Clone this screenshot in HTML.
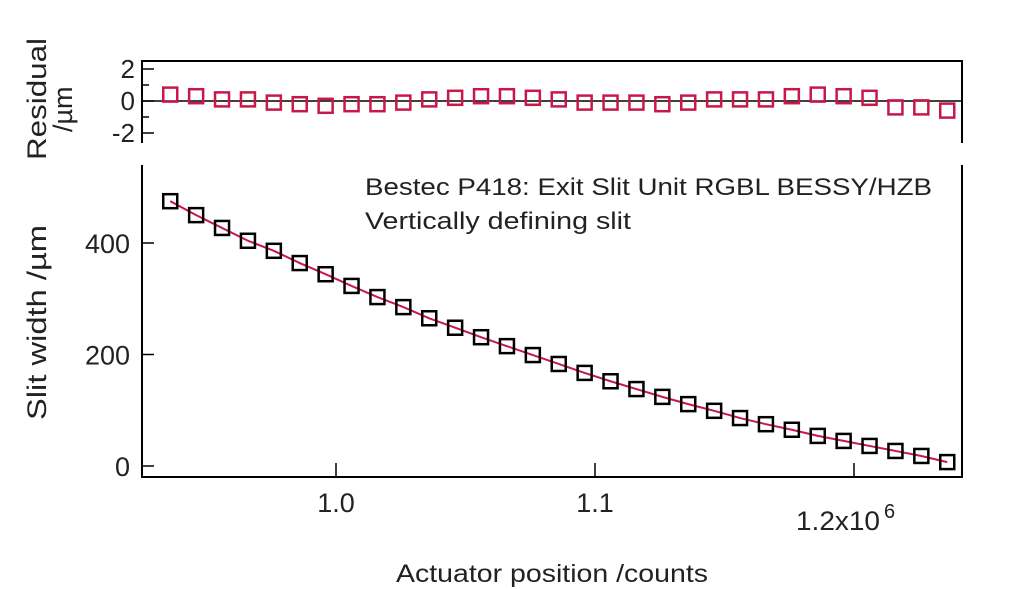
<!DOCTYPE html>
<html><head><meta charset="utf-8"><style>
body{margin:0;background:#fff;}
svg{display:block;font-family:"Liberation Sans",sans-serif;}
</style></head><body>
<svg id="chart" width="1024" height="589">
<g id="res-panel"></g>
<g id="main-panel"></g>
<text x="365" y="195" font-size="24" textLength="567" lengthAdjust="spacingAndGlyphs" fill="#222">Bestec P418: Exit Slit Unit RGBL BESSY/HZB</text>
<text x="365" y="229" font-size="24" textLength="266" lengthAdjust="spacingAndGlyphs" fill="#222">Vertically defining slit</text>
<text x="396" y="582" font-size="25" textLength="312" lengthAdjust="spacingAndGlyphs" fill="#222">Actuator position /counts</text>
<text transform="translate(46,420) rotate(-90)" font-size="27" textLength="195" lengthAdjust="spacingAndGlyphs" fill="#222">Slit width /µm</text>
<text transform="translate(46,160) rotate(-90)" font-size="27" textLength="122" lengthAdjust="spacingAndGlyphs" fill="#222">Residual</text>
<text transform="translate(72,132) rotate(-90)" font-size="27" fill="#222">/µm</text>
</svg>
<script>
const xValues=[0.936,0.946,0.956,0.966,0.976,0.986,0.996,1.006,1.016,1.026,1.036,1.046,1.056,1.066,1.076,1.086,1.096,1.106,1.116,1.126,1.136,1.146,1.156,1.166,1.176,1.186,1.196,1.206,1.216,1.226,1.236];
const widthValues=[475,450,427,404,386,364,344,323,303,285,265,248,231,215,199,183,167,152,138,124,111,99,86,75,65,54,45,36,27,18,7];
const residualValues=[0.4,0.3,0.1,0.1,-0.1,-0.2,-0.3,-0.2,-0.2,-0.1,0.1,0.2,0.3,0.3,0.2,0.1,-0.1,-0.1,-0.1,-0.2,-0.1,0.1,0.1,0.1,0.3,0.4,0.3,0.2,-0.4,-0.4,-0.6];
const xTicks=[1.0,1.1,1.2];
const xTickLabels=["1.0","1.1","1.2x10"];
const yTicks=[0,200,400];
const resTicks=[-2,0,2];

const NS="http://www.w3.org/2000/svg";
const L=142,R=962;
const xs=v=>336+(v-1.0)*2590;
const ys=v=>466-v*0.5575;
const rs=v=>101-v*16;
function mk(parent,tag,attrs){const e=document.createElementNS(NS,tag);for(const k in attrs)e.setAttribute(k,attrs[k]);parent.appendChild(e);return e;}
const res=document.getElementById('res-panel');
const main=document.getElementById('main-panel');

let e=mk(res,'path',{d:`M${L},143 V61 H${R} V143`,fill:'none',stroke:'#000','stroke-width':2});


e=mk(res,'line',{x1:L,x2:R,y1:rs(0),y2:rs(0),stroke:'#000','stroke-width':1.5});


[-1,1].forEach(t=>{const m=mk(res,'line',{x1:L,x2:L+7,y1:rs(t),y2:rs(t),stroke:'#000','stroke-width':1.5});

});
resTicks.forEach(t=>{
 const tk=mk(res,'line',{x1:L,x2:L+12,y1:rs(t),y2:rs(t),stroke:'#000','stroke-width':1.5});
 
 
 const tx=mk(res,'text',{x:L-7,y:rs(t)+9,'font-size':26,'text-anchor':'end',fill:'#222'});tx.textContent=String(t);
 
 
});
xValues.forEach((x,i)=>{
 const s=mk(res,'rect',{x:xs(x)-7,y:rs(residualValues[i])-7,width:14,height:14,fill:'none',stroke:'#c8174a','stroke-width':2.5});
 
 
});

e=mk(main,'path',{d:`M${L},165 V477 H${R} V165`,fill:'none',stroke:'#000','stroke-width':2});


yTicks.forEach(t=>{
 const tk=mk(main,'line',{x1:L,x2:L+12,y1:ys(t),y2:ys(t),stroke:'#000','stroke-width':1.5});
 
 
 const tx=mk(main,'text',{x:L-12,y:ys(t)+10,'font-size':27,'text-anchor':'end',fill:'#222'});tx.textContent=String(t);
 
 
});
xTicks.forEach((t,i)=>{
 const tk=mk(main,'line',{x1:xs(t),x2:xs(t),y1:477,y2:463,stroke:'#000','stroke-width':1.5});
 
 
 const last=i===xTicks.length-1;
 const tx=mk(main,'text',{x:last?xs(t)-58:xs(t),y:last?530:512,'font-size':27,'text-anchor':last?'start':'middle',fill:'#222'});tx.textContent=xTickLabels[i];
 if(last){tx.setAttribute('textLength','84');tx.setAttribute('lengthAdjust','spacingAndGlyphs');}
 
 
 if(last){const sup=mk(main,'text',{x:xs(t)+30,y:518,'font-size':20,fill:'#222'});sup.textContent='6';
 
 }
});
const fit=mk(main,'polyline',{points:xValues.map((x,i)=>xs(x)+','+ys(widthValues[i])).join(' '),fill:'none',stroke:'#c8174a','stroke-width':2});


xValues.forEach((x,i)=>{
 const s=mk(main,'rect',{x:xs(x)-7,y:ys(widthValues[i])-7,width:14,height:14,fill:'none',stroke:'#000','stroke-width':2.5});
 
 
});
</script>
</body></html>
